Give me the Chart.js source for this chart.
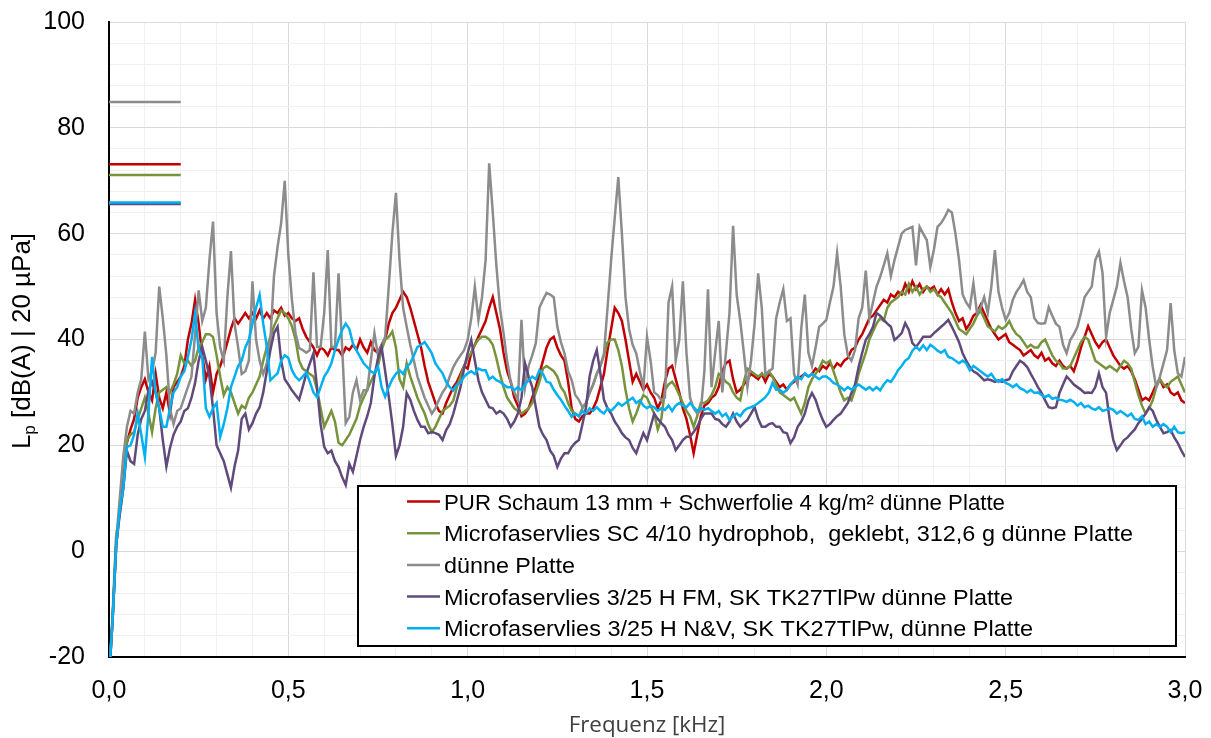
<!DOCTYPE html>
<html>
<head>
<meta charset="utf-8">
<script src="https://cdn.jsdelivr.net/npm/chart.js@4.4.1/dist/chart.umd.min.js"></script>
<style>
  html, body { margin: 0; padding: 0; background: #fff; }
  #wrap { width: 1211px; height: 738px; }
</style>
</head>
<body>
<div id="wrap"><canvas id="myChart" width="1211" height="738"></canvas></div>
<script>
// frequency grid in kHz (0,00 ... 3,00, step 0,01)
const freqKHz = Array.from({ length: 301 }, (_, i) => i / 100);

const seriesLabels = [
    "PUR Schaum 13 mm + Schwerfolie 4 kg/m² dünne Platte",
    "Microfaservlies SC 4/10 hydrophob,  geklebt, 312,6 g dünne Platte",
    "dünne Platte",
    "Microfaservlies 3/25 H FM, SK TK27TlPw dünne Platte",
    "Microfaservlies 3/25 H N&V, SK TK27TlPw, dünne Platte",
];
const seriesColors = ["#c00000", "#77933c", "#8c8c8c", "#604a7b", "#00b0f0"];

// overall levels (short lines top left), same order as the series
const overallLevels = [73.1, 71.1, 84.9, 65.6, 65.9];
const overallSpanKHz = [0, 0.2];

const purSchaum = [
    -24, -13, 1, 8, 13, 20.5, 23, 25, 29, 31,
    32.5, 30, 28.5, 33.5, 29, 27, 30, 26, 31, 32,
    33, 35, 40, 43, 47.5, 43, 37, 32.5, 35, 30,
    33.5, 35, 37, 39.5, 42, 44, 43, 44, 45, 44,
    45, 44, 45.5, 44, 45, 44, 45.5, 45, 46, 44.5,
    45, 44, 43.5, 44, 42, 40.5, 39.5, 38.5, 37, 38.5,
    38, 37, 38.5, 38, 38, 37, 38.5, 38, 39, 38,
    40, 38.5, 37.5, 39.5, 38, 37.5, 39, 40, 43, 45,
    46, 47.5, 49, 48, 46, 43.5, 41, 38.5, 35, 32,
    30, 28, 26.5, 26, 28, 29.5, 31, 32, 33.5, 35,
    34.5, 37.5, 39, 40.5, 42, 43.5, 46, 48, 45, 42,
    37.5, 34, 32, 29, 27.5, 25.5, 26, 27, 29, 31,
    33.5, 36, 38.5, 40, 40.5, 38.5, 37, 36, 32, 27,
    25, 24.5, 25.5, 26, 26, 27, 28.5, 31, 33.5, 38,
    42, 46, 45, 43.5, 40, 36, 32, 33.5, 32, 30.5,
    31.5, 30, 29, 27, 28.5, 32, 34.5, 35, 32.5, 30,
    27, 25, 22, 18.5, 22, 25.5, 27.5, 28, 29, 29.5,
    31, 34, 35.5, 36, 32.5, 30, 30.5, 31.5, 32.5, 33.5,
    33, 32.5, 33.5, 32, 33.5, 33, 32, 31, 31.5, 30.5,
    31.5, 32, 32.5, 33, 33.5, 33, 33.5, 34.5, 34, 35,
    34.5, 35.5, 34.5, 35.5, 35, 36, 36.5, 38, 38.5, 40,
    41, 42.5, 44, 44.5, 45.5, 46.5, 47.5, 47, 48.5, 48,
    49, 48.5, 50.5, 49, 51, 49.5, 50.5, 49, 50, 49.5,
    50, 48.5, 49.5, 48.5, 49.5, 47, 45, 43.5, 44, 42,
    43, 44.5, 45, 46.5, 45, 43.5, 42, 41, 40, 40.5,
    41, 39.5, 39, 38.5, 38, 37, 37.5, 38, 37, 36.5,
    37.5, 36, 36.5, 35.5, 35, 36, 35, 34.5, 35, 34,
    36, 38.5, 40.5, 42.5, 41, 39.5, 38.5, 39.5, 40, 38.5,
    37, 36, 35, 34.5, 35, 34, 32.5, 30.5, 28.5, 29,
    28.5, 30, 31.5, 32.5, 31, 31.5, 30, 29.5, 30, 28.5,
    28,
];

const microSC = [
    -24, -12, 3, 7, 12, 21, 22, 22.5, 25, 27,
    29, 26, 22.5, 27, 30, 30.5, 31, 30, 31.5, 33.5,
    37, 35.5, 36, 35, 36, 38.5, 39.5, 41, 41, 40.5,
    37, 33, 29.5, 31, 30, 28, 26, 27.5, 27, 29,
    30, 31.5, 33, 36, 38.5, 40.5, 42.5, 44, 45.5, 45,
    44, 42.5, 40, 36, 34.5, 34, 33.5, 33, 30.5, 27,
    23.5, 25, 26.5, 24.5, 20.5, 20, 21, 22, 23.5, 25,
    27.5, 29, 30.5, 32, 33.5, 35, 38, 40, 40.5, 41.5,
    38.5, 32.5, 31, 35.5, 33, 31, 29, 27.5, 26, 24,
    22.5, 23.5, 25, 26.5, 27, 27.5, 28.5, 31, 33, 35,
    36.5, 37.5, 39, 40, 40.5, 40.5, 40, 39, 36.5, 33.5,
    31, 29, 28, 27, 26.5, 26, 26.5, 27, 28, 30,
    32, 34.5, 35, 34.5, 34, 33, 31, 30, 28, 26.5,
    26, 25.5, 27, 28, 30, 31.5, 33.5, 35, 37, 39.5,
    40, 40, 38, 35, 30.5, 27, 24.5, 26, 28, 29.5,
    29, 27.5, 26, 23, 25, 30.5, 31.5, 32, 31, 29.5,
    28, 26.5, 25.5, 23.5, 25.5, 28, 28, 28.5, 29.5, 31,
    33.5, 33, 32, 31.5, 30, 29, 28.5, 32, 34.5, 34,
    33.5, 33, 33.5, 33, 34, 33, 31.5, 30, 29.5, 29,
    28.5, 29, 27.5, 26, 28, 31, 32.5, 33.5, 34.5, 36,
    35.5, 36, 34, 32, 30, 28.5, 29, 28.5, 30.5, 33.5,
    35.5, 37.5, 40, 41.5, 43, 44, 43.5, 46, 47, 47.5,
    48, 49, 48.5, 50.5, 49, 50, 48.5, 49.5, 50, 49,
    49.5, 48.5, 48, 47, 46, 45, 43.5, 42, 41.5, 41,
    42, 43, 44.5, 45.5, 44, 42.5, 42, 41.5, 42.5, 42,
    42.5, 43.5, 42, 41, 40.5, 39.5, 38.5, 39, 38.5, 38.5,
    39.5, 40, 38.5, 37, 36, 35.5, 34.5, 34.5, 35, 36.5,
    38, 39.5, 40.5, 40, 38, 36, 35.5, 35, 34.5, 35,
    34.5, 34, 35, 36, 35.5, 34.5, 32, 29.5, 27.5, 26,
    27, 28.5, 31, 32.5, 31.5, 31, 32, 32.5, 33, 31.5,
    30,
];

const duennePlatte = [
    -24, -13, 2, 10, 18, 23.5, 26.5, 26, 30, 32.5,
    41.5, 32.5, 34, 37.5, 50, 44, 37, 27, 24, 26.5,
    27, 29, 31, 33, 41, 49.3, 43.5, 46, 55, 62.3,
    45, 38.5, 36, 48, 56.7, 43, 38.5, 33.5, 34, 36,
    51, 40, 36, 33.5, 35.5, 40, 52, 57.5, 62, 70,
    56, 47.5, 41.2, 38.4, 38, 37.5, 38, 52.7, 38.6, 38.6,
    45, 56.9, 38.6, 38.6, 52.5, 38.6, 24.2, 25.4, 30, 32.3,
    28.6, 30.4, 30.4, 36, 41.2, 37, 39, 40.5, 50, 60,
    67.7, 55, 46, 42.4, 39, 36, 33, 31, 29, 27.5,
    26, 27, 28.6, 30, 31, 33, 34.8, 36, 37, 38,
    39.9, 44, 50, 43.7, 48, 55, 73.3, 64, 54, 46,
    41.2, 36, 32, 30, 28.6, 43.7, 31, 35, 37, 39.3,
    46, 47.5, 48.8, 48.5, 48, 42.4, 39.5, 37.4, 34, 32.3,
    29.5, 28.6, 27.2, 28, 29.9, 31.5, 33.6, 35, 37.4, 46,
    55, 63, 70.7, 60, 48, 42, 39, 37.4, 34, 31,
    40.5, 36, 30, 29.5, 28.5, 29, 47, 50, 36, 40,
    51, 37.5, 29, 27, 26, 26.5, 34, 49.5, 31, 37.5,
    43.5, 30, 37.5, 45, 61.5, 48.5, 43.5, 37.5, 31, 36,
    43, 52.5, 46, 33.5, 34, 34.5, 44, 47, 49.5, 43.5,
    44, 33.5, 31.5, 42, 48.5, 37.5, 35, 38.5, 42.4, 43,
    43.7, 47, 50, 56.3, 50, 41, 37, 36, 38, 44,
    46, 53, 44, 47, 50, 51.8, 54, 56.3, 52, 55,
    57.5, 60, 60.7, 61, 61.3, 54, 61.3, 60, 58.8, 53.7,
    57, 61.3, 62, 63.1, 64.5, 64, 60, 55, 48.5, 47,
    46, 50.6, 45, 46, 48, 45, 50, 56.9, 49, 46,
    43.7, 45, 47.5, 49, 50, 51.2, 49, 48, 44, 43.1,
    43, 43.1, 46.1, 44.5, 43, 42.4, 39, 37.4, 39.9, 41,
    42.4, 45, 48, 49, 50, 55, 56.6, 52.6, 40.5, 45,
    47.5, 50, 54.5, 51, 48, 42, 37.4, 38.6, 49.3, 46.1,
    40, 34.8, 31, 33, 35.5, 38, 46.9, 38, 33.6, 33,
    36.7,
];

const microFM = [
    -24, -13, 1, 7, 12, 19, 17, 16.5, 22, 25,
    26.5, 30.4, 32, 30, 27, 21, 16, 19.5, 22, 23.5,
    24.5, 26.5, 27, 29, 31.8, 36, 38.6, 36, 33, 27,
    20, 18.5, 17, 14.5, 12, 16, 19, 25, 26, 23,
    24.2, 26, 27.2, 30, 34, 38, 41.2, 42.4, 36, 32.5,
    31.5, 30.4, 29.5, 28.6, 31, 33.5, 35.5, 37.4, 31, 24,
    19.7, 18.5, 19, 17, 15.9, 14, 12.5, 16.5, 15, 18,
    21, 23.5, 25.5, 28, 33, 36.5, 38.6, 34, 29.2, 24,
    18, 20, 23.5, 29.9, 28.6, 26.5, 24.8, 23.5, 23.5, 22.3,
    22.5, 22.3, 22, 21, 22.9, 24, 26, 28.5, 31, 34.5,
    37.4, 39.9, 36, 32.3, 30, 28.6, 27.2, 27, 26, 26.5,
    26, 25, 23.5, 24.5, 26, 29, 35.5, 33, 31, 27.2,
    23.5, 22, 21, 19, 18, 15.9, 17.5, 18.5, 18.5, 19.7,
    20.5, 21, 24, 27.2, 33, 36, 38, 33.6, 28.6, 27,
    26, 24.5, 23.5, 22.3, 21.5, 21, 19.5, 18.5, 20.5, 22.3,
    21, 23.5, 26, 25, 24.2, 23.5, 22, 21, 19.1, 20,
    21, 21.6, 21.6, 22.5, 23.5, 25, 26, 26, 26, 25,
    24.8, 24, 23.5, 24.5, 26, 24.5, 23.5, 24.2, 24.8, 26,
    27.2, 25, 23.5, 23.5, 24, 24.2, 23.5, 23.5, 22.5, 22.3,
    20.4, 21.5, 23.5, 24.5, 26, 28.5, 29.9, 28.6, 26.5, 24.8,
    23.5, 24, 24.8, 25.5, 26, 27, 28, 29.9, 31.5, 34.8,
    37.5, 39.9, 41, 42.4, 45, 44.5, 43.7, 43, 42.4, 39.9,
    40.5, 41.2, 43.1, 41.8, 39.3, 38.6, 39.5, 40.5, 40.5, 40.5,
    41.2, 41.8, 42.4, 43, 43.7, 42.4, 41, 39.5, 37.4, 36,
    34.8, 34, 33.6, 33, 32.3, 32.5, 32.3, 32, 32.3, 32,
    32.3, 32.5, 34, 35, 36, 35.5, 34.8, 33.5, 32.3, 31,
    29.9, 28.5, 27.2, 27, 27.2, 29.9, 31.5, 33, 32.3, 31.5,
    31, 30.5, 29.9, 30, 29.9, 31, 33.6, 31, 29.9, 24.8,
    21, 19.1, 20, 21, 21.5, 22.3, 23, 24.2, 25, 26,
    27.2, 26.5, 24.8, 23.5, 22.3, 22.5, 22.9, 21.5, 20.4, 19,
    17.8,
];

const microNV = [
    -24, -13, 1, 8, 12, 19.7, 20, 22, 26, 22,
    17.8, 26, 36.7, 30, 27, 23.5, 23.5, 27, 30, 31,
    33, 34, 36.7, 40, 44.9, 38, 36.7, 27, 25.4, 27,
    28, 21.6, 24, 27, 31, 33, 35, 36, 38.5, 40,
    43, 46, 48.4, 43, 38.6, 32.3, 33, 33.6, 36, 37,
    36.5, 34.2, 33, 32.3, 33, 33.8, 32, 30, 29.1, 31,
    33, 34, 35.5, 38, 40, 41.8, 43, 42, 39.3, 38,
    36.7, 35.5, 34.8, 34, 33.6, 34.9, 31, 29.2, 31, 32.5,
    33.5, 34.2, 33.5, 34.8, 35.5, 37, 38.6, 39, 39.5, 38.5,
    37.4, 35.5, 34.5, 33.6, 32, 31, 30.4, 31.5, 31.8, 33,
    33.6, 34, 33.5, 34.5, 34.2, 34.2, 32.5, 33, 32.3, 32,
    31.5, 31, 31, 30.4, 31, 30.4, 31.5, 32.3, 33, 32.5,
    34.2, 33.5, 32, 31.8, 30.5, 29.5, 28.6, 27.5, 26.5, 25.4,
    26, 25.5, 26.5, 26, 27, 26.5, 27.2, 26.5, 26, 27,
    26.5, 27.2, 28, 27.5, 28, 28.5, 29, 28, 28.5, 27.5,
    27, 27.5, 27.2, 26.5, 27, 26.7, 27.5, 26.5, 27.5, 28,
    27.5, 27.2, 28, 27.2, 26.5, 27, 26.7, 27, 26.5, 26,
    26.5, 25.5, 26, 24.8, 25.5, 26, 25.5, 26.5, 27, 27.2,
    27.5, 28, 28.5, 29.1, 30, 31.8, 30.5, 30.5, 29.9, 30.5,
    31.5, 32.3, 33, 32.5, 33.6, 33, 33.5, 33, 32.5, 33,
    33, 32.5, 31.8, 31.5, 31, 30.4, 31, 30.5, 31, 31.5,
    31, 30.5, 31, 30.4, 31, 30.4, 31.5, 32.3, 32, 33,
    34.2, 35, 36, 36.5, 37.9, 38.6, 38, 38.9, 38, 39,
    38.5, 37.9, 37.5, 38, 36.7, 36.5, 36, 35.5, 36, 35.5,
    34.2, 35, 34.5, 34, 33.5, 33, 33.5, 32.5, 32, 32.5,
    31.8, 31.5, 31, 31.5, 30.8, 30.5, 30, 30.5, 29.9, 30,
    29.5, 29.1, 29.5, 28.8, 29, 28.6, 28.5, 28.2, 28.6, 28.2,
    27.5, 28, 27.2, 27.5, 27, 26.7, 27.2, 26.5, 26.7, 27,
    26.7, 26, 26.5, 26, 25.5, 26, 25, 24.8, 25.5, 24,
    24.5, 23.5, 24, 23.5, 24, 23.5, 22.5, 23.5, 22.5, 22.3,
    22.5,
];

const seriesValues = [purSchaum, microSC, duennePlatte, microFM, microNV];
// Excel draws later series on top; in Chart.js lower order is drawn on top
const drawOrder = [4, 3, 2, 1, 0];

// legend text widths in px as in the original (font metrics differ a bit)
const legendTextWidths = [561, 689, 131, 569, 589];

const toPoints = (xs, ys) => ys.map((y, i) => ({ x: xs[i], y: y }));

const datasets = [];
seriesValues.forEach((vals, k) => {
    datasets.push({
        label: seriesLabels[k],
        data: toPoints(freqKHz, vals),
        borderColor: seriesColors[k],
        borderWidth: 2.5,
        pointRadius: 0,
        order: drawOrder[k],
    });
});
overallLevels.forEach((lvl, k) => {
    datasets.push({
        label: seriesLabels[k] + " (Summe)",
        data: overallSpanKHz.map(x => ({ x: x, y: lvl })),
        borderColor: seriesColors[k],
        borderWidth: 2.5,
        pointRadius: 0,
        order: drawOrder[k] + 10,
    });
});

const isMajorX = v => Math.round(v * 10) % 5 === 0;
const isMajorY = v => Math.round(v) % 20 === 0;

// no automatic label padding, the plot box is fixed by layout.padding
const noPad = s => {
    s.paddingTop = 0;
    s.paddingBottom = 0;
    s.paddingLeft = 0;
    s.paddingRight = 0;
};

// axis titles + legend box drawn on the canvas
const overlay = {
    id: "overlay",
    afterDraw(chart) {
        const ctx = chart.ctx;
        const area = chart.chartArea;
        ctx.save();

        // x title
        ctx.fillStyle = "#404040";
        ctx.textAlign = "left";
        ctx.textBaseline = "alphabetic";
        let fs = 19;
        ctx.font = fs + 'px "Open Sans"';
        const xt = "Frequenz [kHz]";
        fs = fs * 157 / ctx.measureText(xt).width;
        ctx.font = fs.toFixed(1) + 'px "Open Sans"';
        const xw = ctx.measureText(xt).width;
        ctx.fillText(xt, (area.left + area.right) / 2 - xw / 2, 732);

        // y title with subscript p
        ctx.fillStyle = "#000";
        ctx.translate(30, 341);
        ctx.rotate(-Math.PI / 2);
        const big = 26, small = 17;
        const rest = " [dB(A) | 20 µPa]";
        ctx.font = big + 'px "Liberation Sans"';
        const wL = ctx.measureText("L").width;
        const wR = ctx.measureText(rest).width;
        ctx.font = small + 'px "Liberation Sans"';
        const wp = ctx.measureText("p").width;
        const total = wL + wp + wR;
        let x0 = -total / 2;
        ctx.font = big + 'px "Liberation Sans"';
        ctx.fillText("L", x0, 0);
        ctx.font = small + 'px "Liberation Sans"';
        ctx.fillText("p", x0 + wL, 5);
        ctx.font = big + 'px "Liberation Sans"';
        ctx.fillText(rest, x0 + wL + wp, 0);
        ctx.setTransform(1, 0, 0, 1, 0, 0);

        // legend
        const box = { left: 358, top: 486, right: 1176, bottom: 646 };
        ctx.fillStyle = "#fff";
        ctx.fillRect(box.left, box.top, box.right - box.left, box.bottom - box.top);
        ctx.strokeStyle = "#000";
        ctx.lineWidth = 2;
        ctx.strokeRect(box.left, box.top, box.right - box.left, box.bottom - box.top);
        ctx.font = '22px "Liberation Sans"';
        ctx.textBaseline = "alphabetic";
        seriesLabels.forEach((lab, k) => {
            const base = 509.5 + k * 31.7;
            const mid = base - 8;
            ctx.strokeStyle = seriesColors[k];
            ctx.lineWidth = 2.5;
            ctx.beginPath();
            ctx.moveTo(407, mid);
            ctx.lineTo(440, mid);
            ctx.stroke();
            ctx.fillStyle = "#000";
            const sx = legendTextWidths[k] / ctx.measureText(lab).width;
            ctx.save();
            ctx.translate(444, base);
            ctx.scale(sx, 1);
            ctx.fillText(lab, 0, 0);
            ctx.restore();
        });
        ctx.restore();
    },
};

const myChart = document.querySelector("#myChart");

new Chart(myChart, {
    type: "line",
    data: { datasets: datasets },
    options: {
        responsive: false,
        animation: false,
        devicePixelRatio: 1,
        layout: { padding: { left: 0, top: 22, right: 26, bottom: 0 } },
        plugins: {
            legend: { display: false },
            tooltip: { enabled: false },
        },
        scales: {
            x: {
                type: "linear",
                min: 0,
                max: 3,
                afterFit: s => { s.height = 81; noPad(s); },
                border: { color: "#000", width: 2 },
                grid: {
                    drawTicks: false,
                    color: c => (isMajorX(c.tick.value) ? "#d9d9d9" : "#f0f0f0"),
                },
                ticks: {
                    stepSize: 0.1,
                    autoSkip: false,
                    maxRotation: 0,
                    padding: 19,
                    color: "#000",
                    font: { family: "Liberation Sans", size: 25 },
                    callback: v => (isMajorX(v) ? v.toFixed(1).replace(".", ",") : ""),
                },
            },
            y: {
                min: -20,
                max: 100,
                afterFit: s => { s.width = 109; noPad(s); },
                border: { color: "#000", width: 2 },
                grid: {
                    drawTicks: false,
                    color: c => (isMajorY(c.tick.value) ? "#d9d9d9" : "#f0f0f0"),
                },
                ticks: {
                    stepSize: 4,
                    autoSkip: false,
                    padding: 24,
                    color: "#000",
                    font: { family: "Liberation Sans", size: 25 },
                    callback: v => (isMajorY(v) ? String(v) : ""),
                },
            },
        },
    },
    plugins: [overlay],
});
</script>
</body>
</html>
